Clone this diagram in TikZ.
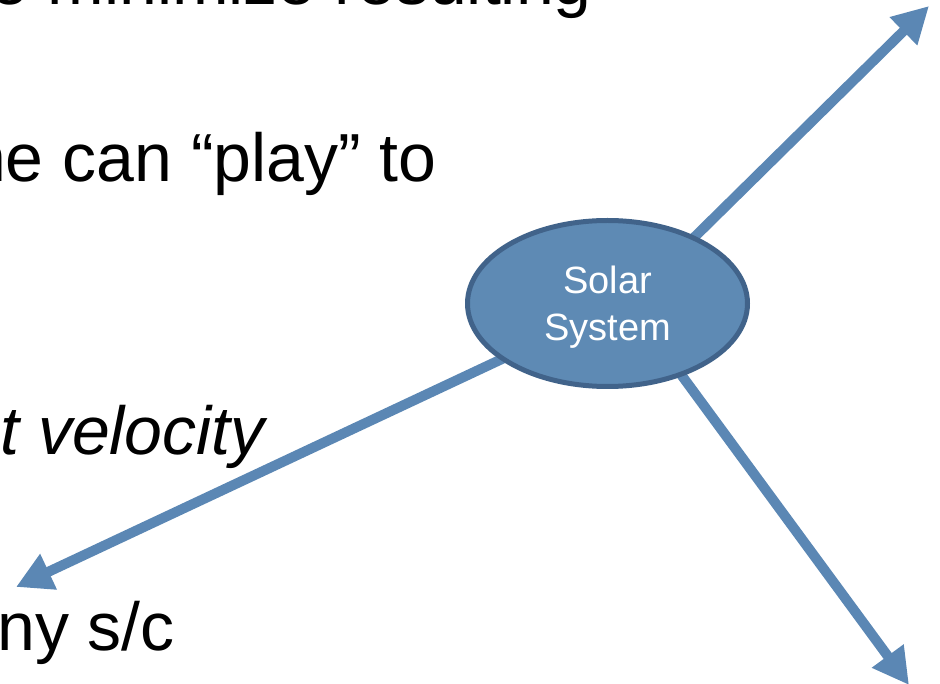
\documentclass[tikz,border=0pt]{standalone}
\usepackage{fontspec}
\setmainfont{Liberation Sans}
\usetikzlibrary{shapes.geometric,arrows.meta}
\definecolor{arrowblue}{RGB}{91,135,180}
\definecolor{sunfill}{RGB}{94,138,180}
\definecolor{sunborder}{RGB}{65,99,138}
\tikzset{
  bigtext/.style={anchor=base east, inner sep=0pt, font=\fontsize{68}{80}\selectfont, text=black},
  bigarrow/.style={draw=arrowblue, line width=10pt, -{Triangle[length=36pt,width=37pt]}},
  sunnode/.style={ellipse, draw=sunborder, fill=sunfill, line width=5pt,
    minimum width=280pt, minimum height=166pt, inner sep=0pt},
  suntext/.style={align=center, inner sep=0pt, text=white, font=\fontsize{38}{47}\selectfont}
}
\begin{document}
\begin{tikzpicture}[x=1pt,y=-1pt]
\useasboundingbox (0,0) rectangle (940,684);
\clip (0,0) rectangle (940,684);
\node[bigtext] (t1) at (592,5) {e minimize resulting};
\node[bigtext] (t2) at (437,182) {ne can “play” to};
\node[bigtext] (t3) at (265,455) {\itshape t velocity};
\node[bigtext] (t4) at (175,650) {ny s/c};
\coordinate (s1) at (657,274);
\coordinate (e1) at (929,6);
\coordinate (s2) at (600,313);
\coordinate (e2) at (16,587);
\coordinate (s3) at (641,320);
\coordinate (e3) at (909,685);
\draw[bigarrow] (s1) -- (e1);
\draw[bigarrow] (s2) -- (e2);
\draw[bigarrow] (s3) -- (e3);
\node[sunnode] (sun) at (607.5,303.5) {};
\node[suntext] (suntxt) at ([yshift=-4pt]sun.center) {Solar\\System};
\end{tikzpicture}
\end{document}
